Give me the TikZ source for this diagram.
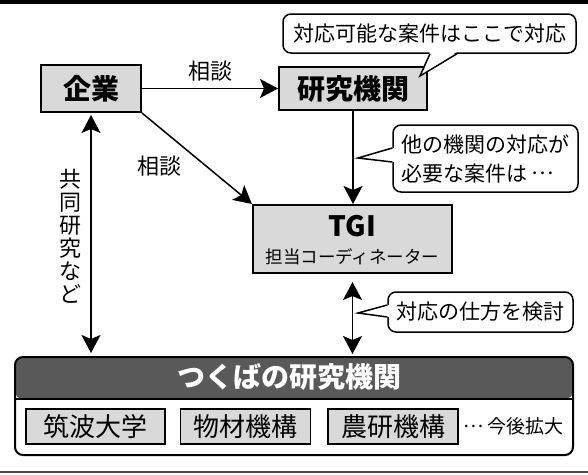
\documentclass[tikz,border=0pt]{standalone}
\usepackage{fontspec}
\setmainfont{Noto Sans CJK JP}
\usetikzlibrary{arrows.meta,positioning}

\tikzset{
  box/.style={draw, line width=2pt, fill=black!15, inner sep=0pt},
  bigfont/.style={font=\fontsize{28}{28}\selectfont\bfseries},
  subfont/.style={font=\fontsize{26}{26}\selectfont},
  note/.style={draw, line width=1.5pt, fill=white, rounded corners=8pt, inner sep=0pt, font=\fontsize{21}{29}\selectfont},
  word/.style={inner sep=0pt, font=\fontsize{22}{23}\selectfont},
  arrow/.style={line width=1.5pt, -{Stealth[length=18pt,width=19pt,inset=4pt]}},
  biarrow/.style={line width=1.5pt, {Stealth[length=18pt,width=19pt,inset=4pt]}-{Stealth[length=18pt,width=19pt,inset=4pt]}},
  pointer/.style={line width=1.5pt, line join=miter}
}

\begin{document}
\begin{tikzpicture}[x=1pt, y=-1pt]
\useasboundingbox (0,0) rectangle (588,474);
\fill (0,0) rectangle (588,3.5);
\draw[black!70, line width=1.5pt] (0,472) -- (588,472);

\node[box, bigfont, minimum width=100pt, minimum height=47pt](kigyo) at (91,88.5){企業};
\node[box, bigfont, minimum width=148pt, minimum height=43pt](kenkyu)[right = 136pt of kigyo]{研究機関};
\node[box, minimum width=199pt, minimum height=68pt](tgi) at (352.5,239){};
\node[inner sep=0pt, font=\fontsize{28}{28}\selectfont\bfseries](tginame) at ([yshift=13pt]tgi.center){TGI};
\node[inner sep=0pt, font=\fontsize{17.5}{17.5}\selectfont](coord) at ([yshift=-18pt]tgi.center){担当コーディネーター};

\node[draw, line width=2pt, fill=white, rounded corners=8pt, minimum width=558pt, minimum height=98pt,
  path picture={
    \fill[black!65] (path picture bounding box.north west) rectangle ([yshift=-42pt]path picture bounding box.north east);
    \draw[line width=1.5pt] ([yshift=-42pt]path picture bounding box.north west) -- ([yshift=-42pt]path picture bounding box.north east);
  }](tsukuba) at (294,406){};
\node[inner sep=0pt, bigfont, text=white](bandtitle) at (289,377){つくばの研究機関};
\node[box, subfont, line width=1.5pt, minimum width=139pt, minimum height=35pt](tsukubauniv) at (95.5,426.5){筑波大学};
\node[box, subfont, line width=1.5pt, minimum width=130pt, minimum height=35pt](nims)[right = 14pt of tsukubauniv]{物材機構};
\node[box, subfont, line width=1.5pt, minimum width=130pt, minimum height=35pt](naro)[right = 16pt of nims]{農研機構};
\node[inner sep=0pt, font=\fontsize{19}{19}\selectfont](more)[right = 5pt of naro]{\raisebox{.32em}{…}\,今後拡大};

\path[arrow]
	(kigyo) edge node[word, above=6pt]{相談} (kenkyu)
	(kigyo.south east) edge node[word, midway, anchor=east, xshift=-15pt, yshift=-8pt]{相談} (tgi.north west)
	(kenkyu.south) edge (kenkyu.south |- tgi.north);
\draw[biarrow, shorten <=2pt, shorten >=3pt] (kigyo.south) -- (kigyo.south |- tsukuba.north);
\draw[biarrow, shorten <=8pt, shorten >=2pt] (tgi.south) -- (tgi.south |- tsukuba.north);
\node[word, align=center](kyodo) at (70,236){共\\同\\研\\究\\な\\ど};

\node[note, minimum width=293pt, minimum height=39pt](note1) at (429.5,33.5){対応可能な案件はここで対応};
\coordinate(tip1) at (420,76);
\fill[white] ([xshift=0.5pt,yshift=2pt]note1.south) -- (tip1) -- ([xshift=27.5pt,yshift=2pt]note1.south) -- cycle;
\draw[pointer] ([xshift=0.5pt]note1.south) -- (tip1) -- ([xshift=27.5pt]note1.south);

\node[note, align=left, minimum width=185pt, minimum height=67pt](note2) at (485.5,158.5){他の機関の対応が\\必要な案件は\,\raisebox{.32em}{…}};
\coordinate(tip2) at (358,158);
\fill[white] ([xshift=2pt,yshift=10.5pt]note2.west) -- (tip2) -- ([xshift=2pt,yshift=-3.5pt]note2.west) -- cycle;
\draw[pointer] ([yshift=10.5pt]note2.west) -- (tip2) -- ([yshift=-3.5pt]note2.west);

\node[note, minimum width=185pt, minimum height=40pt](note3) at (480.5,312){対応の仕方を検討};
\coordinate(tip3) at (358,313);
\fill[white] ([xshift=2pt,yshift=7pt]note3.west) -- (tip3) -- ([xshift=2pt,yshift=-5pt]note3.west) -- cycle;
\draw[pointer] ([yshift=7pt]note3.west) -- (tip3) -- ([yshift=-5pt]note3.west);
\end{tikzpicture}
\end{document}
